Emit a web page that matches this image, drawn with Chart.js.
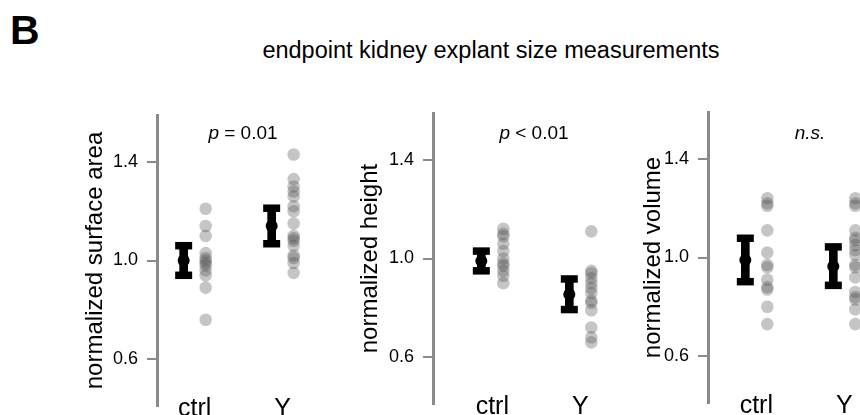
<!DOCTYPE html>
<html>
<head>
<meta charset="utf-8">
<script src="https://cdn.jsdelivr.net/npm/chart.js@4.4.0/dist/chart.umd.min.js"></script>
<style>
  html, body { margin: 0; padding: 0; background: #fff; overflow: hidden; }
  body { width: 860px; height: 415px; position: relative; font-family: 'Liberation Sans', Arial, sans-serif; color: #000; }
  .panel { position: absolute; top: 0; }
  .lbl { position: absolute; white-space: nowrap; line-height: 1; }
  .note { font-size: 19px; transform: translateX(-50%); }
</style>
</head>
<body>
<div class="lbl" style="left:10px;top:10px;font-size:41px;font-weight:bold;">B</div>
<div class="lbl" style="left:491px;top:39px;font-size:23.5px;transform:translateX(-50%);">endpoint kidney explant size measurements</div>

<div class="panel" style="left:77px"><canvas id="c1" width="274" height="426"></canvas></div>
<div class="panel" style="left:353px"><canvas id="c2" width="274" height="424"></canvas></div>
<div class="panel" style="left:628px"><canvas id="c3" width="274" height="423"></canvas></div>

<div class="lbl note" style="left:243px;top:123px;"><i>p</i> = 0.01</div>
<div class="lbl note" style="left:534px;top:123px;"><i>p</i> &lt; 0.01</div>
<div class="lbl note" style="left:810px;top:123px;"><i>n.s.</i></div>

<script>
const categories = ['ctrl', 'Y'];
const yTicks = [0.6, 1.0, 1.4];

// normalized surface area
const areaCtrl = [1.21, 1.14, 1.10, 1.03, 1.01, 1.00, 0.99, 0.98, 0.96, 0.94, 0.89, 0.76];
const areaY = [1.43, 1.33, 1.30, 1.28, 1.26, 1.22, 1.20, 1.15, 1.10, 1.09, 1.08, 1.06, 1.02, 1.01, 0.99, 0.95];
const areaMean = [1.00, 1.14];
const areaSem = [0.06, 0.072];

// normalized height
const heightCtrl = [1.12, 1.10, 1.09, 1.06, 1.03, 1.00, 0.98, 0.97, 0.95, 0.93, 0.90];
const heightY = [1.11, 0.95, 0.94, 0.92, 0.90, 0.88, 0.86, 0.83, 0.82, 0.79, 0.72, 0.68, 0.66];
const heightMean = [0.99, 0.855];
const heightSem = [0.04, 0.062];

// normalized volume
const volumeCtrl = [1.24, 1.22, 1.21, 1.11, 1.02, 0.97, 0.96, 0.91, 0.88, 0.87, 0.80, 0.73];
const volumeY = [1.24, 1.22, 1.21, 1.11, 1.08, 1.07, 1.05, 1.03, 1.01, 0.97, 0.96, 0.92, 0.86, 0.84, 0.83, 0.79, 0.73];
const volumeMean = [0.99, 0.965];
const volumeSem = [0.088, 0.078];

Chart.defaults.font.family = "'Liberation Sans', Arial, sans-serif";
Chart.defaults.color = '#000';

const AXIS_W = 80;      // width reserved for y ticks + title
const PX_PER_CAT = 88;  // distance between ctrl and Y
const SHIFT = 0.125;    // errorbar left of centre, dots right of centre
const AXIS_GREY = '#8a8a8a';

function load_panel(id, yLabel, ctrlVals, treatVals, mean, sem, xMin, topPad, titlePad) {
    const canvas = document.getElementById(id);
    const plotW = canvas.width - AXIS_W;

    const dots = [];
    ctrlVals.forEach(v => dots.push({x: 0 + SHIFT, y: v}));
    treatVals.forEach(v => dots.push({x: 1 + SHIFT, y: v}));

    const stems = [], caps = [], means = [];
    mean.forEach((m, i) => {
        stems.push({x: i - SHIFT, y: [m - sem[i], m + sem[i]]});
        caps.push({x: i - SHIFT, y: m - sem[i]});
        caps.push({x: i - SHIFT, y: m + sem[i]});
        means.push({x: i - SHIFT, y: m});
    });

    const data = {
        datasets: [
            {
                type: 'scatter',
                data: means,
                pointStyle: 'circle',
                pointRadius: 6,
                backgroundColor: '#000',
                borderWidth: 0,
            },
            {
                type: 'scatter',
                data: caps,
                pointStyle: 'line',
                pointRadius: 8.5,
                borderColor: '#000',
                borderWidth: 7.5,
            },
            {
                type: 'bar',
                data: stems,
                barThickness: 8,
                backgroundColor: '#000',
                borderWidth: 0,
            },
            {
                type: 'scatter',
                data: dots,
                pointRadius: 6.3,
                backgroundColor: 'rgba(80, 80, 80, 0.33)',
                borderWidth: 0,
            }
        ]
    };

    const config = {
        type: 'scatter',
        data: data,
        options: {
            responsive: false,
            animation: false,
            events: [],
            layout: {
                autoPadding: false,
                padding: {top: topPad, left: 0, right: 0, bottom: 0}
            },
            plugins: {
                legend: {display: false},
                tooltip: {enabled: false}
            },
            scales: {
                x: {
                    type: 'linear',
                    offset: false,
                    min: xMin,
                    max: xMin + plotW / PX_PER_CAT,
                    afterFit: s => { s.height = 20; },
                    afterBuildTicks: s => { s.ticks = categories.map((c, i) => ({value: i})); },
                    ticks: {
                        callback: v => categories[v],
                        font: {size: 25},
                        mirror: true,   // lets the labels sit up beside the axis line
                        padding: -18,
                        autoSkip: false,
                        maxRotation: 0
                    },
                    grid: {display: false, drawTicks: false, offset: false},
                    border: {display: false}
                },
                y: {
                    min: 0.41,
                    max: 1.59,
                    afterFit: s => { s.width = AXIS_W; },
                    afterBuildTicks: s => { s.ticks = yTicks.map(v => ({value: v})); },
                    ticks: {
                        callback: v => v.toFixed(1),
                        font: {size: 18},
                        padding: 9
                    },
                    grid: {
                        drawOnChartArea: false,
                        drawTicks: true,
                        tickLength: 10,
                        color: AXIS_GREY,
                        lineWidth: 2
                    },
                    border: {display: true, color: AXIS_GREY, width: 3},
                    title: {
                        display: true,
                        text: yLabel,
                        font: {size: 24},
                        padding: {top: titlePad, bottom: 0}
                    }
                }
            }
        }
    };

    _ = new Chart(canvas, config);
}

load_panel('c1', 'normalized surface area', areaCtrl, areaY, areaMean, areaSem, -0.428, 115, 3.6);
load_panel('c2', 'normalized height', heightCtrl, heightY, heightMean, heightSem, -0.674, 113, 2.9);
load_panel('c3', 'normalized volume', volumeCtrl, volumeY, volumeMean, volumeSem, -0.549, 112, 10.9);
</script>
</body>
</html>
